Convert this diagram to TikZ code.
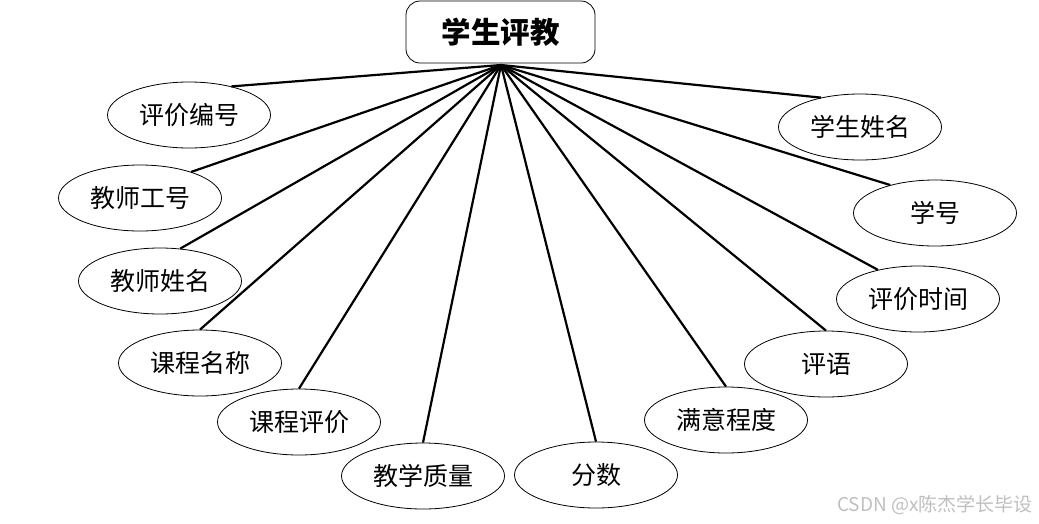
\documentclass[tikz,border=0pt]{standalone}
\usepackage{fontspec}
\newfontfamily\cjk{Noto Sans CJK SC}
\usetikzlibrary{shapes.geometric}
\begin{document}
\begin{tikzpicture}[x=1pt,y=-1pt,
  attr/.style={ellipse,draw,line width=0.8pt,minimum width=163pt,minimum height=66pt,inner sep=0pt,font=\cjk\fontsize{25}{28}\selectfont},
  ent/.style={rectangle,rounded corners=14pt,draw,line width=0.8pt,minimum width=189pt,minimum height=62pt,inner sep=0pt,font=\cjk\bfseries\fontsize{29.5}{33}\selectfont},
  link/.style={line width=2.2pt},
  wm/.style={font=\cjk\fontsize{19}{22}\selectfont,text=black!25}]
\useasboundingbox (0,0) rectangle (1039,523);
\node[ent] (top) at (500.5,32) {学生评教};
\coordinate (hub) at (501,65);
\node[attr] (a1) at (189,115) {评价编号};
\node[attr] (a2) at (140,198) {教师工号};
\node[attr] (a3) at (160,281) {教师姓名};
\node[attr] (a4) at (200,363) {课程名称};
\node[attr] (a5) at (299,422) {课程评价};
\node[attr] (a6) at (423,476) {教学质量};
\node[attr] (a7) at (596,475) {分数};
\node[attr] (a8) at (726,420) {满意程度};
\node[attr] (a9) at (826,364) {评语};
\node[attr] (a10) at (918,299) {评价时间};
\node[attr] (a11) at (935,213) {学号};
\node[attr] (a12) at (860,127) {学生姓名};
\draw[link] (hub) -- (a1.34);
\draw[link] (hub) -- (a2.27);
\draw[link] (hub) -- (a3.58);
\draw[link] (hub) -- (a4.north);
\draw[link] (hub) -- (a5.north);
\draw[link] (hub) -- (a6.north);
\draw[link] (hub) -- (a7.north);
\draw[link] (hub) -- (a8.north);
\draw[link] (hub) -- (a9.north);
\draw[link] (hub) -- (a10.144);
\draw[link] (hub) -- (a11.148);
\draw[link] (hub) -- (a12.143);
\node[wm] (wm) at (935,505) {CSDN @x陈杰学长毕设};
\end{tikzpicture}
\end{document}
